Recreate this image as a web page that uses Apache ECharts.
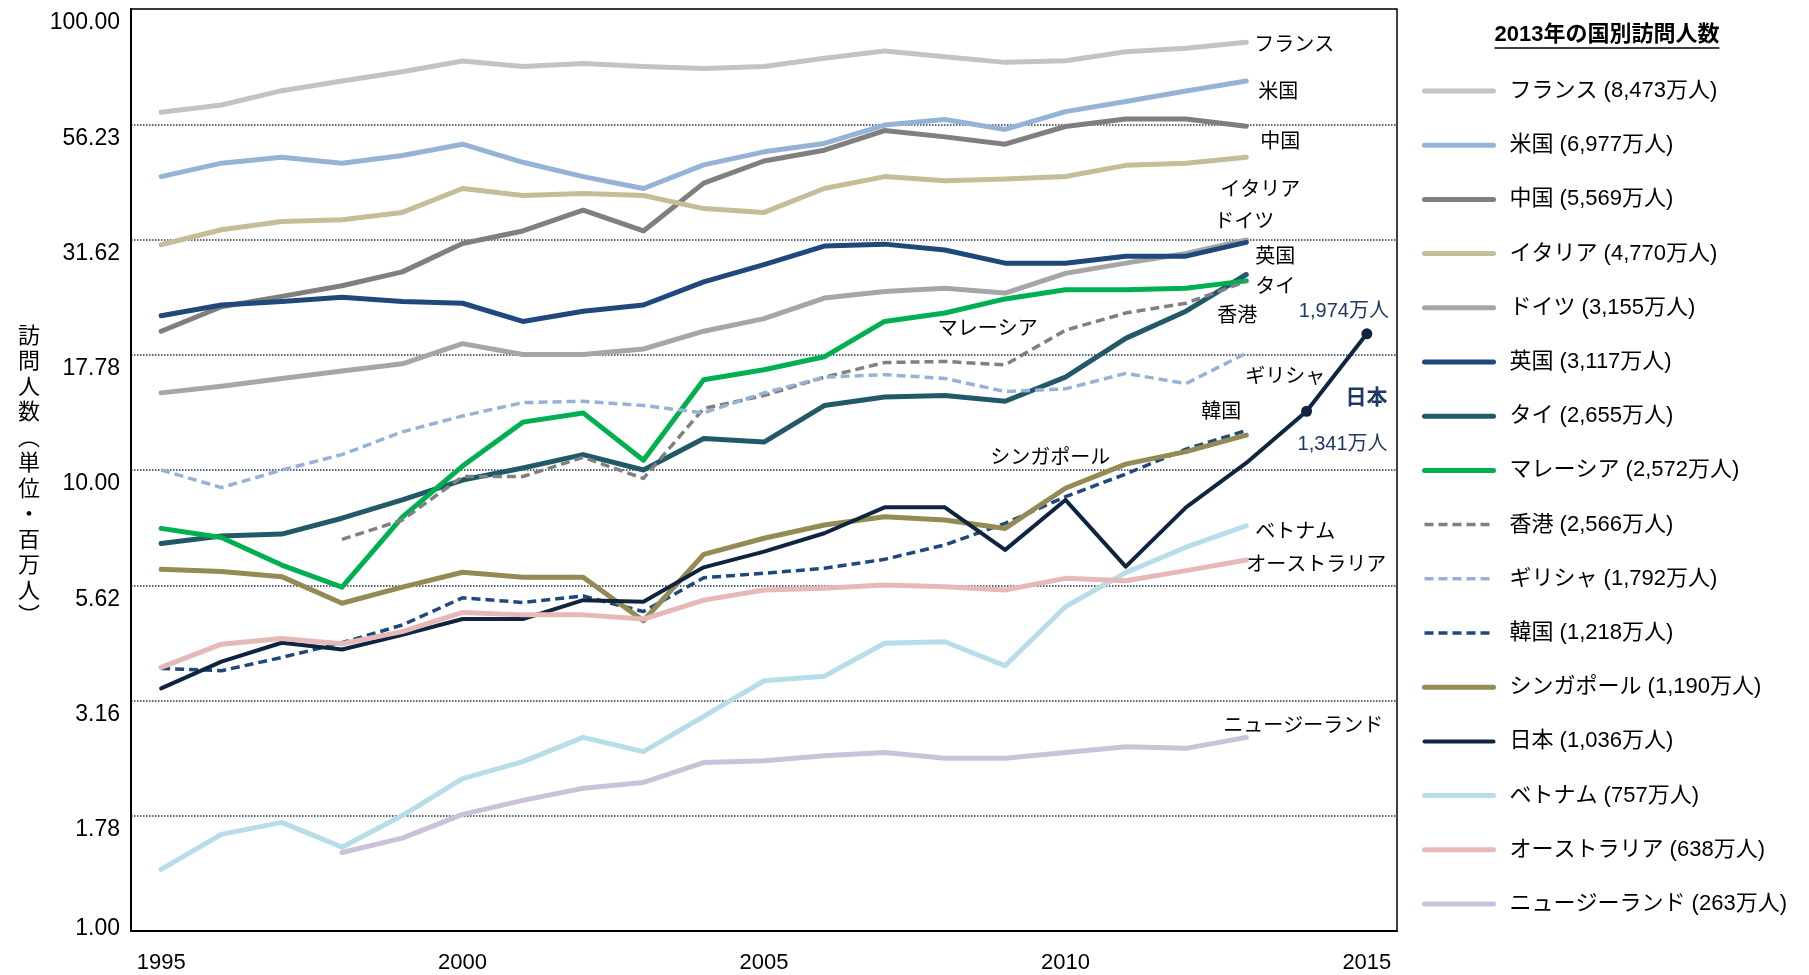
<!DOCTYPE html>
<html>
<head>
<meta charset="utf-8">
<script src="https://cdn.jsdelivr.net/npm/echarts@6/dist/echarts.min.js"></script>
<style>
html, body { margin: 0; padding: 0; background: #fff; }
#chart { width: 1809px; height: 975px; }
</style>
</head>
<body>
<div id="chart"></div>
<script>
// 年（1995〜2015）
const years = ["1995", "1996", "1997", "1998", "1999", "2000", "2001", "2002", "2003", "2004", "2005",
  "2006", "2007", "2008", "2009", "2010", "2011", "2012", "2013", "2014", "2015"]

// 縦軸の目盛（対数, 0.25刻み）
const yTickLabels = ["1.00", "1.78", "3.16", "5.62", "10.00", "17.78", "31.62", "56.23", "100.00"]

// 訪問人数（百万人）
const france = [59.7, 61.9, 66.5, 69.8, 73.1, 77.1, 75.0, 76.2, 75.0, 74.3, 75.0, 78.2, 81.1, 78.8, 76.6, 77.2, 80.8, 82.2, 84.7, null, null]
const usa = [43.3, 46.3, 47.7, 46.3, 48.1, 50.9, 46.5, 43.3, 40.8, 45.9, 49.0, 51.1, 56.0, 57.6, 54.8, 59.9, 63.0, 66.4, 69.8, null, null]
const china = [20.0, 22.6, 23.8, 25.1, 26.9, 31.0, 33.0, 36.6, 33.0, 41.9, 46.8, 49.4, 54.5, 52.8, 50.9, 55.6, 57.7, 57.7, 55.7, null, null]
const italy = [30.8, 33.2, 34.6, 34.9, 36.2, 40.8, 39.4, 39.8, 39.4, 36.9, 36.2, 40.8, 43.3, 42.4, 42.8, 43.3, 45.8, 46.3, 47.7, null, null]
const germany = [14.7, 15.2, 15.8, 16.4, 17.0, 18.8, 17.8, 17.8, 18.3, 20.0, 21.3, 23.6, 24.4, 24.8, 24.2, 26.7, 28.1, 29.5, 31.55, null, null]
const uk = [21.6, 22.8, 23.2, 23.7, 23.2, 23.0, 21.0, 22.1, 22.8, 25.6, 27.9, 30.6, 30.9, 30.0, 28.1, 28.1, 29.1, 29.1, 31.17, null, null]
const thailand = [6.93, 7.19, 7.26, 7.86, 8.61, 9.51, 10.1, 10.8, 10.0, 11.7, 11.5, 13.8, 14.4, 14.5, 14.1, 15.9, 19.3, 22.1, 26.55, null, null]
const malaysia = [7.47, 7.14, 6.22, 5.57, 7.9, 10.2, 12.7, 13.3, 10.5, 15.7, 16.5, 17.6, 21.0, 21.9, 23.5, 24.6, 24.6, 24.8, 25.72, null, null]
const hongKong = [null, null, null, 7.07, 7.79, 9.68, 9.68, 10.65, 9.59, 13.6, 14.5, 15.9, 17.1, 17.2, 16.9, 20.1, 21.9, 23.0, 25.66, null, null]
const greece = [10.0, 9.16, 10.0, 10.8, 12.1, 13.1, 14.0, 14.1, 13.8, 13.3, 14.7, 15.9, 16.1, 15.8, 14.8, 15.0, 16.2, 15.4, 17.92, null, null]
const korea = [3.71, 3.67, 3.92, 4.22, 4.61, 5.28, 5.16, 5.33, 4.93, 5.84, 5.97, 6.12, 6.40, 6.88, 7.66, 8.75, 9.8, 11.1, 12.18, null, null]
const singapore = [6.09, 6.02, 5.87, 5.14, 5.57, 6.00, 5.85, 5.85, 4.71, 6.56, 7.11, 7.60, 7.92, 7.79, 7.47, 9.13, 10.3, 10.96, 11.9, null, null]
const japan = [3.36, 3.84, 4.22, 4.08, 4.39, 4.75, 4.75, 5.22, 5.18, 6.15, 6.65, 7.29, 8.30, 8.30, 6.71, 8.61, 6.17, 8.30, 10.36, 13.41, 19.74]
const vietnam = [1.36, 1.62, 1.72, 1.52, 1.78, 2.14, 2.33, 2.63, 2.45, 2.92, 3.49, 3.57, 4.21, 4.24, 3.76, 5.05, 5.99, 6.80, 7.57, null, null]
const australia = [3.73, 4.19, 4.31, 4.20, 4.46, 4.91, 4.85, 4.85, 4.75, 5.22, 5.49, 5.54, 5.63, 5.58, 5.49, 5.82, 5.75, 6.05, 6.38, null, null]
const newZealand = [null, null, null, 1.48, 1.59, 1.79, 1.92, 2.04, 2.10, 2.32, 2.34, 2.40, 2.44, 2.37, 2.37, 2.44, 2.51, 2.49, 2.63, null, null]

// 凡例の2013年訪問人数
const counts2013 = ["8,473万人", "6,977万人", "5,569万人", "4,770万人", "3,155万人", "3,117万人", "2,655万人", "2,572万人",
  "2,566万人", "1,792万人", "1,218万人", "1,190万人", "1,036万人", "757万人", "638万人", "263万人"]

const FONT = "'Liberation Sans', 'Noto Sans CJK JP', sans-serif"
const NAVY = "#1f3864"

// name, data, color, dashed, width, label: [index, dx, dy]
const lines = [
  ["フランス", france, "#c3c3c3", false, 5, [18, 48, 3]],
  ["米国", usa, "#95b3d7", false, 5, [18, 32, 12]],
  ["中国", china, "#7f7f7f", false, 5, [18, 34, 16]],
  ["イタリア", italy, "#c4bd97", false, 5, [18, 14, 33]],
  ["ドイツ", germany, "#a6a6a6", false, 5, [18, -2, -17]],
  ["英国", uk, "#1f497d", false, 5, [18, 29, 15]],
  ["タイ", thailand, "#215968", false, 5, [18, 29, 13]],
  ["マレーシア", malaysia, "#00b050", false, 5, [13, 43, 16]],
  ["香港", hongKong, "#808080", true, 3.5, [18, -9, 35]],
  ["ギリシャ", greece, "#95b3d7", true, 3.5, [18, 39, 24]],
  ["韓国", korea, "#1f497d", true, 3.5, [18, -25, -18]],
  ["シンガポール", singapore, "#948a54", false, 5, [14, 45, -70]],
  ["日本", japan, "#0f243e", false, 4, null],
  ["ベトナム", vietnam, "#b7dee8", false, 5, [18, 49, 7]],
  ["オーストラリア", australia, "#e6b9b8", false, 5, [18, 70, 6]],
  ["ニュージーランド", newZealand, "#ccc1da", false, 5, [18, 57, -11]]
]

function logv(v) {
  return v == null ? null : Math.log10(v)
}

function mark(data, idx, dx, dy, text, extra) {
  return {
    coord: [years[idx], logv(data[idx])],
    label: Object.assign({ formatter: text, offset: [dx, dy] }, extra || {})
  }
}

let series = lines.map(([name, data, color, dashed, width, lab]) => {
  let pts = data.map(logv)
  let marks = []
  if (lab) marks.push(mark(data, lab[0], lab[1], lab[2], name))
  if (name === "日本") {
    pts = pts.map((v, i) => i >= 19 ? { value: v, symbol: "circle", symbolSize: 11 } : v)
    marks.push(mark(data, 19, 60, -13, "日本", { fontWeight: "bold", color: NAVY, fontSize: 21 }))
    marks.push(mark(data, 20, -23, -22, "1,974万人", { color: NAVY }))
    marks.push(mark(data, 19, 36, 33, "1,341万人", { color: NAVY }))
  }
  return {
    type: "line",
    name: name,
    data: pts,
    symbol: "none",
    showSymbol: true,
    connectNulls: false,
    animation: false,
    itemStyle: { color: color },
    lineStyle: {
      color: color,
      width: width,
      type: dashed ? [9, 5] : "solid",
      cap: dashed ? "butt" : "round",
      join: "round"
    },
    emphasis: { disabled: true },
    markPoint: {
      silent: true,
      symbol: "circle",
      symbolSize: 1,
      itemStyle: { color: "rgba(0,0,0,0)" },
      label: { show: true, position: "inside", color: "#000", fontSize: 20, fontFamily: FONT },
      data: marks
    }
  }
})

const legendTitle = "2013年の国別訪問人数"
let ctx = document.createElement("canvas").getContext("2d")
ctx.font = "bold 22px " + FONT
let titleW = ctx.measureText(legendTitle).width
let titleLeft = 1607 - titleW / 2

let countOf = {}
lines.forEach((l, i) => { countOf[l[0]] = counts2013[i] })

let chart = echarts.init(document.getElementById("chart"))
chart.setOption({
  animation: false,
  backgroundColor: "#fff",
  title: [
    {
      text: ["訪", "問", "人", "数", "︵", "単", "位", "・", "百", "万", "人", "︶"].join("\n"),
      left: 18,
      top: 324,
      padding: 0,
      textStyle: { fontSize: 22, lineHeight: 25.5, fontWeight: "normal", color: "#000", fontFamily: FONT }
    },
    {
      text: legendTitle,
      left: titleLeft,
      top: 24,
      padding: 0,
      textStyle: { fontSize: 22, fontWeight: "bold", color: "#000", fontFamily: FONT }
    }
  ],
  graphic: [
    {
      type: "line",
      shape: { x1: titleLeft, y1: 48, x2: titleLeft + titleW, y2: 48 },
      style: { stroke: "#000", lineWidth: 1.5 }
    }
  ],
  grid: {
    left: 131,
    right: 412,
    top: 9,
    bottom: 44,
    show: true,
    borderColor: "#000",
    borderWidth: 1.5
  },
  legend: {
    orient: "vertical",
    left: 1422,
    top: 79,
    padding: 0,
    itemWidth: 69,
    itemHeight: 14,
    itemGap: 30.2,
    selectedMode: false,
    data: lines.map(l => l[0]),
    formatter: name => name + " (" + countOf[name] + ")",
    itemStyle: { opacity: 0 },
    lineStyle: { width: "inherit" },
    textStyle: { fontSize: 22, lineHeight: 24, color: "#000", fontFamily: FONT, padding: [0, 0, 0, 11] }
  },
  xAxis: {
    type: "category",
    data: years,
    boundaryGap: true,
    axisLine: { lineStyle: { color: "#000", width: 2 } },
    axisTick: { inside: true, length: 7, interval: 0, lineStyle: { color: "#000", width: 1.5 } },
    axisLabel: { interval: 4, margin: 21, fontSize: 22, color: "#000", fontFamily: FONT },
    splitLine: { show: false }
  },
  yAxis: {
    type: "value",
    min: 0,
    max: 2,
    interval: 0.25,
    axisLine: { show: true, lineStyle: { color: "#000", width: 2 } },
    axisTick: { show: false },
    splitLine: { show: true, lineStyle: { type: "dotted", color: "#1f3050", width: 1.5 } },
    axisLabel: {
      margin: 11,
      color: "#000",
      formatter: v => {
        let i = Math.round(v / 0.25)
        return i === 0 ? "{lo|" + yTickLabels[i] + "}" : "{hi|" + yTickLabels[i] + "}"
      },
      rich: {
        hi: { fontSize: 23, fontFamily: FONT, color: "#000", padding: [28, 0, 0, 0] },
        lo: { fontSize: 23, fontFamily: FONT, color: "#000", padding: [0, 0, 4, 0] }
      }
    }
  },
  series: series
})
</script>
</body>
</html>
